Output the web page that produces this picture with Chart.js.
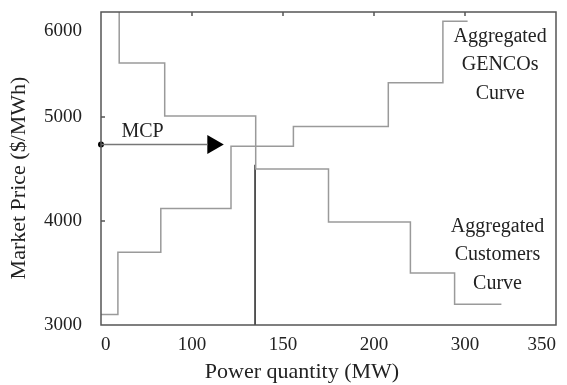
<!DOCTYPE html>
<html>
<head>
<meta charset="utf-8">
<script src="https://cdn.jsdelivr.net/npm/chart.js@4.4.0/dist/chart.umd.min.js"></script>
<style>
  html, body { margin: 0; padding: 0; background: #fff; }
  #wrap { width: 567px; height: 385px; }
</style>
</head>
<body>
<div id="wrap"><canvas id="marketChart"></canvas></div>
<script>
const CHART = document.getElementById('marketChart');
Chart.defaults.font.family = '"Liberation Serif", "Times New Roman", serif';
Chart.defaults.color = '#222';

// x axis is evenly spaced but the printed labels are not
var xTickValues = [0, 70, 140, 210, 280, 350];
var xTickLabels = ['0', '100', '150', '200', '300', '350'];
var yTickValues = [3000, 4000, 5000, 5830];
var yTickLabels = ['3000', '4000', '5000', '6000'];

// aggregated GENCOs offers (block start quantity, block price)
var gencoQty = [0, 13, 46, 100, 148, 221, 263, 282];
var gencoPrice = [3100, 3700, 4120, 4720, 4910, 5330, 5920, 5920];

// aggregated customers bids (block end quantity, block price)
var custQty = [14, 49, 119, 175, 238, 272, 308];
var custPrice = [6010, 5520, 5010, 4500, 3990, 3500, 3200];

// market clearing point
var mcpQty = 118.5;
var mcpLineTop = 4540;
var mcpPrice = 4735;
var arrowEnd = 82;
var arrowHeadAt = 86;

function pts(xs, ys) {
  return xs.map(function(x, i) { return {x: x, y: ys[i]}; });
}

// box, inward ticks, axis titles and the text labels inside the plot
var framePlugin = {
  id: 'frame',
  afterDraw: function(chart) {
    var ctx = chart.ctx;
    var a = chart.chartArea;
    var xs = chart.scales.x, ys = chart.scales.y;
    ctx.save();
    ctx.strokeStyle = '#555';
    ctx.lineWidth = 1.5;
    ctx.strokeRect(a.left, a.top, a.right - a.left, a.bottom - a.top);
    ctx.beginPath();
    for (var i = 1; i < xTickValues.length - 1; i++) {
      var px = xs.getPixelForValue(xTickValues[i]);
      ctx.moveTo(px, a.top);
      ctx.lineTo(px, a.top + 4);
    }
    for (var j = 1; j < yTickValues.length - 1; j++) {
      var py = ys.getPixelForValue(yTickValues[j]);
      ctx.moveTo(a.left, py);
      ctx.lineTo(a.left + 4, py);
    }
    ctx.stroke();

    ctx.fillStyle = '#222';
    ctx.textAlign = 'center';
    ctx.textBaseline = 'middle';
    ctx.font = '22px "Liberation Serif", serif';
    ctx.fillText('Power quantity (MW)', 302, 372);
    ctx.save();
    ctx.translate(19, 178);
    ctx.rotate(-Math.PI / 2);
    ctx.fillText('Market Price ($/MWh)', 0, 0);
    ctx.restore();

    ctx.font = '20px "Liberation Serif", serif';
    ctx.fillText('MCP', xs.getPixelForValue(32), ys.getPixelForValue(4856));
    var gx = xs.getPixelForValue(307), gy = ys.getPixelForValue(5500);
    ctx.fillText('Aggregated', gx, gy - 28.5);
    ctx.fillText('GENCOs', gx, gy);
    ctx.fillText('Curve', gx, gy + 28.5);
    var cx = xs.getPixelForValue(305), cy = ys.getPixelForValue(3673);
    ctx.fillText('Aggregated', cx, cy - 28.5);
    ctx.fillText('Customers', cx, cy);
    ctx.fillText('Curve', cx, cy + 28.5);
    ctx.restore();
  }
};

var marketChart = new Chart(CHART, {
  type: 'line',
  data: {
    datasets: [
      {
        label: 'Aggregated GENCOs Curve',
        data: pts(gencoQty, gencoPrice),
        stepped: 'before',
        borderColor: '#9a9a9a',
        borderWidth: 1.5,
        pointRadius: 0,
        fill: false
      },
      {
        label: 'Aggregated Customers Curve',
        data: pts(custQty, custPrice),
        stepped: 'after',
        borderColor: '#9a9a9a',
        borderWidth: 1.5,
        pointRadius: 0,
        fill: false
      },
      {
        label: 'MCP quantity',
        data: pts([mcpQty, mcpQty], [3000, mcpLineTop]),
        borderColor: '#222',
        borderWidth: 1.5,
        pointRadius: 0
      },
      {
        label: 'MCP',
        data: pts([0, arrowEnd], [mcpPrice, mcpPrice]),
        borderColor: '#777',
        borderWidth: 1.5,
        pointRadius: 0
      },
      {
        label: 'MCP arrow',
        data: pts([arrowHeadAt], [mcpPrice]),
        showLine: false,
        pointStyle: 'triangle',
        rotation: 90,
        pointRadius: 11,
        pointBackgroundColor: '#000',
        pointBorderColor: '#000',
        pointBorderWidth: 0
      },
      {
        label: 'MCP dot',
        data: pts([0], [mcpPrice]),
        showLine: false,
        clip: false,
        pointRadius: 3,
        pointBackgroundColor: '#000',
        pointBorderColor: '#000',
        pointBorderWidth: 0
      }
    ]
  },
  options: {
    responsive: true,
    maintainAspectRatio: false,
    animation: false,
    layout: { padding: { top: 12, right: 6, left: 0, bottom: 0 } },
    plugins: {
      legend: { display: false },
      tooltip: { enabled: false }
    },
    scales: {
      x: {
        type: 'linear',
        min: 0,
        max: 350,
        afterBuildTicks: function(s) { s.ticks = xTickValues.map(function(v) { return {value: v}; }); },
        afterFit: function(s) { s.height = 60; s.paddingLeft = 0; s.paddingRight = 0; },
        grid: { display: false, drawTicks: false },
        border: { display: false },
        ticks: {
          align: 'inner',
          autoSkip: false,
          maxRotation: 0,
          padding: 9,
          font: { size: 19 },
          callback: function(v, i) { return xTickLabels[i]; }
        }
      },
      y: {
        type: 'linear',
        min: 3000,
        max: 6010,
        afterBuildTicks: function(s) { s.ticks = yTickValues.map(function(v) { return {value: v}; }); },
        afterFit: function(s) { s.width = 101; s.paddingTop = 0; s.paddingBottom = 0; },
        grid: { display: false, drawTicks: false },
        border: { display: false },
        ticks: {
          autoSkip: false,
          padding: 19,
          font: { size: 19 },
          callback: function(v, i) { return yTickLabels[i]; }
        }
      }
    }
  },
  plugins: [framePlugin]
});
</script>
</body>
</html>
